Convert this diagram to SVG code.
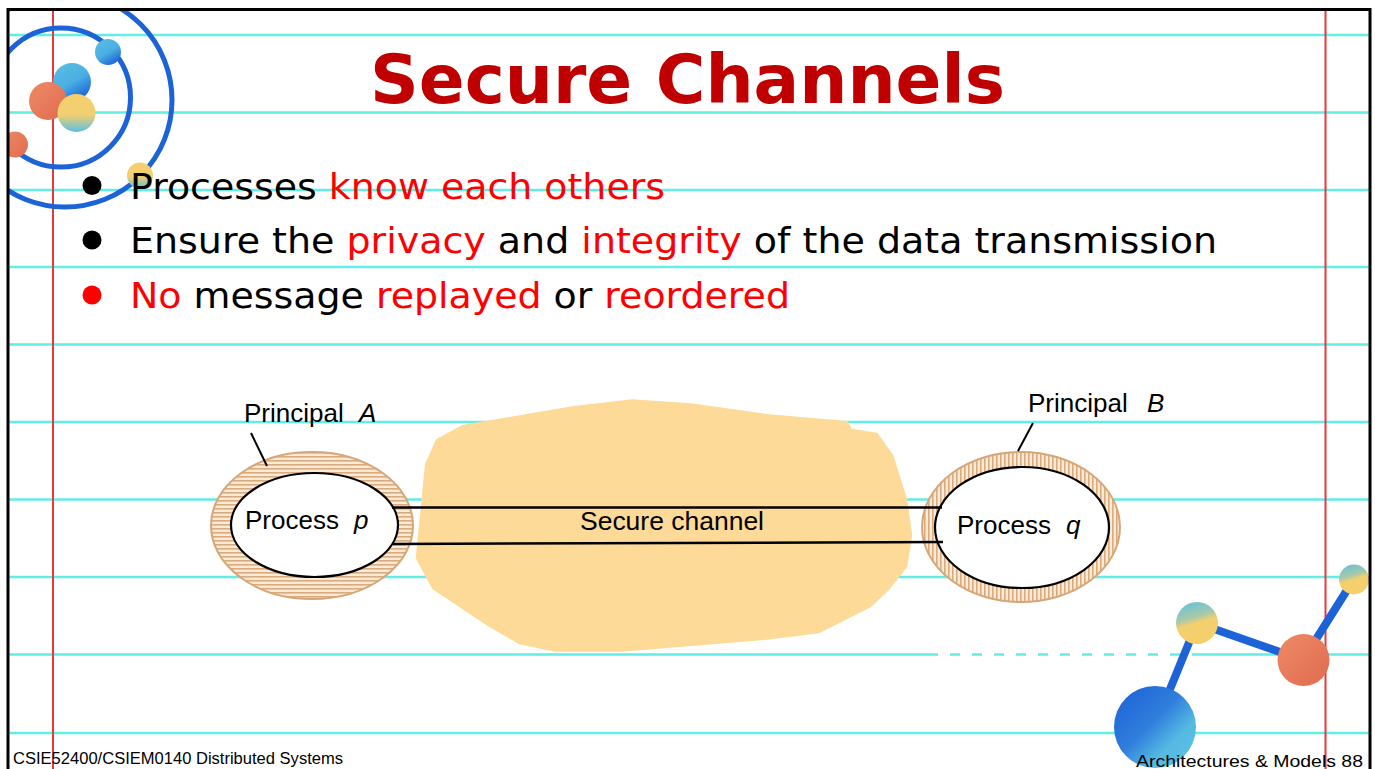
<svg xmlns="http://www.w3.org/2000/svg" width="1375" height="769" viewBox="0 0 1375 769">
  <defs>
    <style>
      .rule { stroke: #62EDE6; stroke-width: 2.5; }
      .margin { stroke: #E8383D; stroke-width: 2; }
      .title { font-family: "DejaVu Sans", Verdana, sans-serif; font-weight: bold; font-size: 68px; fill: #C00000; }
      .bullet { font-family: "DejaVu Sans", Verdana, sans-serif; font-size: 36px; fill: #000; }
      .hl { fill: #FF0000; }
      .lbl { font-family: "Liberation Sans", Arial, sans-serif; font-size: 26px; fill: #000; }
      .it { font-style: italic; }
      .foot { font-family: "Liberation Sans", Arial, sans-serif; font-size: 16px; fill: #000; }
      .orbit { fill: none; stroke: #1C63D8; stroke-width: 5; }
      .link { stroke: #1C63D8; stroke-width: 8; stroke-linecap: round; }
      .outer { stroke: #D6A677; stroke-width: 2; }
      .inner { fill: #FFFFFF; stroke: #000; stroke-width: 2.2; }
      .wire { stroke: #000; stroke-width: 2.5; fill: none; }
      .leader { stroke: #000; stroke-width: 2; }
    </style>
    <pattern id="hstripes" width="6" height="4" patternUnits="userSpaceOnUse">
      <rect width="6" height="4" fill="#FBEAD6"/>
      <rect y="0" width="6" height="1.6" fill="#D9AB7E"/>
    </pattern>
    <pattern id="vstripes" width="4" height="6" patternUnits="userSpaceOnUse">
      <rect width="4" height="6" fill="#FBEAD6"/>
      <rect x="0" width="1.6" height="6" fill="#D9AB7E"/>
    </pattern>
    <linearGradient id="gBlueDeep" x1="0" y1="0" x2="1" y2="1">
      <stop offset="0" stop-color="#1A5FD6"/>
      <stop offset="0.45" stop-color="#2F7EDC"/>
      <stop offset="0.7" stop-color="#55B9E2"/>
      <stop offset="1" stop-color="#5CC3E4"/>
    </linearGradient>
    <linearGradient id="gBlue" x1="0" y1="0" x2="0.6" y2="1">
      <stop offset="0" stop-color="#5BC0E3"/>
      <stop offset="0.6" stop-color="#4AAEE2"/>
      <stop offset="1" stop-color="#2068D8"/>
    </linearGradient>
    <linearGradient id="gOrange" x1="0" y1="0" x2="1" y2="1">
      <stop offset="0" stop-color="#EE8A66"/>
      <stop offset="1" stop-color="#E06B50"/>
    </linearGradient>
    <linearGradient id="gYellowBlue" x1="0" y1="0" x2="0" y2="1">
      <stop offset="0" stop-color="#F6CF6C"/>
      <stop offset="0.55" stop-color="#F1CF72"/>
      <stop offset="1" stop-color="#5BC0E3"/>
    </linearGradient>
    <linearGradient id="gBlueYellow" x1="0" y1="0" x2="0.3" y2="1">
      <stop offset="0" stop-color="#5BC0E3"/>
      <stop offset="0.45" stop-color="#A9C9A8"/>
      <stop offset="0.6" stop-color="#F4CF6E"/>
      <stop offset="1" stop-color="#F6CF6C"/>
    </linearGradient>
    <clipPath id="page">
      <rect x="8" y="9.5" width="1362" height="770"/>
    </clipPath>
  </defs>

  <rect width="1375" height="769" fill="#FFFFFF"/>

  <!-- notebook paper: ruled lines and margins -->
  <g id="paper">
    <g class="rule">
      <line x1="8" y1="35" x2="1370" y2="35"/>
      <line x1="8" y1="112.5" x2="1370" y2="112.5"/>
      <line x1="8" y1="190" x2="1370" y2="190"/>
      <line x1="8" y1="267" x2="1370" y2="267"/>
      <line x1="8" y1="344.5" x2="1370" y2="344.5"/>
      <line x1="8" y1="422" x2="1370" y2="422"/>
      <line x1="8" y1="499.5" x2="1370" y2="499.5"/>
      <line x1="8" y1="577" x2="1370" y2="577"/>
      <line x1="8" y1="654.5" x2="1370" y2="654.5"/>
      <line x1="8" y1="733" x2="1370" y2="733"/>
    </g>
    <line x1="938" y1="654.5" x2="1200" y2="654.5" stroke="#FFFFFF" stroke-width="3.5" stroke-dasharray="12 10"/>
    <g class="margin">
      <line x1="53" y1="9" x2="53" y2="769"/>
      <line x1="1325.5" y1="9" x2="1325.5" y2="769"/>
    </g>
  </g>

  <!-- orbit ornament, top left -->
  <g id="orbits" clip-path="url(#page)">
    <circle class="orbit" cx="65" cy="100" r="107"/>
    <circle class="orbit" cx="61" cy="97.5" r="69.5"/>
    <circle cx="108" cy="52" r="13" fill="url(#gBlue)"/>
    <circle cx="72" cy="82" r="19" fill="url(#gBlue)"/>
    <circle cx="48" cy="101" r="19" fill="url(#gOrange)"/>
    <circle cx="76.5" cy="113" r="19" fill="url(#gYellowBlue)"/>
    <circle cx="15" cy="144.5" r="13" fill="url(#gOrange)"/>
    <circle cx="140" cy="175.5" r="13" fill="url(#gYellowBlue)"/>
  </g>

  <!-- title -->
  <text class="title" x="370" y="103" textLength="635" lengthAdjust="spacingAndGlyphs">Secure Channels</text>

  <!-- bullet list -->
  <g id="bullets">
    <circle cx="92" cy="185.5" r="9.5" fill="#000"/>
    <text class="bullet" x="130" y="199" textLength="535" lengthAdjust="spacingAndGlyphs">Processes <tspan class="hl">know each others</tspan></text>
    <circle cx="92" cy="240" r="9.5" fill="#000"/>
    <text class="bullet" x="130" y="253" textLength="1087" lengthAdjust="spacingAndGlyphs">Ensure the <tspan class="hl">privacy</tspan> and <tspan class="hl">integrity</tspan> of the data transmission</text>
    <circle cx="92" cy="295" r="9.5" fill="#FF0000"/>
    <text class="bullet" x="130" y="308" textLength="660" lengthAdjust="spacingAndGlyphs"><tspan class="hl">No</tspan> message <tspan class="hl">replayed</tspan> or <tspan class="hl">reordered</tspan></text>
  </g>

  <!-- the channel medium -->
  <g id="channel">
    <polygon fill="#FDDA98" points="632,399.3 691,403.3 766.7,414 847.7,421 851.7,428.7 877.3,432.7 893.3,455 907.3,500 912.3,535 907.3,566.7 889,590 870.7,607.3 819,633.3 765,640 621.7,651.7 555,651.7 519.3,644.3 487.3,625.7 432.3,589 415.7,558.3 425,464 436,439.3 462.3,425 573.3,406"/>
  </g>

  <!-- principal A with process p -->
  <g id="principal-a">
    <ellipse class="outer" cx="312" cy="525.5" rx="101" ry="73.5" fill="url(#hstripes)"/>
    <ellipse class="inner" cx="314.5" cy="525" rx="83.5" ry="52"/>
    <text class="lbl" x="245" y="529">Process <tspan class="it" x="354">p</tspan></text>
    <text class="lbl" x="244" y="422">Principal <tspan class="it" x="359">A</tspan></text>
  </g>

  <!-- principal B with process q -->
  <g id="principal-b">
    <ellipse class="outer" cx="1021" cy="527" rx="99" ry="75" fill="url(#vstripes)"/>
    <ellipse class="inner" cx="1022" cy="527.5" rx="87" ry="60.5"/>
    <text class="lbl" x="957" y="534">Process <tspan class="it" x="1066">q</tspan></text>
    <text class="lbl" x="1028" y="412">Principal <tspan class="it" x="1147">B</tspan></text>
  </g>

  <!-- connectors: channel wires and label leaders -->
  <g id="connectors">
    <line class="wire" x1="392" y1="507.5" x2="942" y2="507.5"/>
    <line class="wire" x1="393" y1="544" x2="943" y2="542"/>
    <line class="leader" x1="251" y1="433" x2="267" y2="466"/>
    <line class="leader" x1="1033" y1="423" x2="1018" y2="451"/>
  </g>
  <text class="lbl" x="580" y="530" textLength="184" lengthAdjust="spacingAndGlyphs">Secure channel</text>

  <!-- molecule ornament, bottom right -->
  <g id="molecule" clip-path="url(#page)">
    <line class="link" x1="1155" y1="726" x2="1197" y2="623"/>
    <line class="link" x1="1197" y1="623" x2="1303" y2="660"/>
    <line class="link" x1="1303" y1="660" x2="1354" y2="579"/>
    <circle cx="1155" cy="727" r="41" fill="url(#gBlueDeep)"/>
    <circle cx="1197" cy="623" r="21" fill="url(#gBlueYellow)"/>
    <circle cx="1303.5" cy="660" r="26" fill="url(#gOrange)"/>
    <circle cx="1354" cy="579.5" r="15" fill="url(#gBlueYellow)"/>
  </g>

  <!-- footer -->
  <text class="foot" x="13" y="764" textLength="330" lengthAdjust="spacingAndGlyphs">CSIE52400/CSIEM0140 Distributed Systems</text>
  <text class="foot" x="1136" y="767" font-size="19" textLength="227" lengthAdjust="spacingAndGlyphs">Architectures &amp; Models 88</text>

  <!-- page frame -->
  <rect x="8" y="9.5" width="1362" height="775" fill="none" stroke="#000" stroke-width="3"/>
</svg>
